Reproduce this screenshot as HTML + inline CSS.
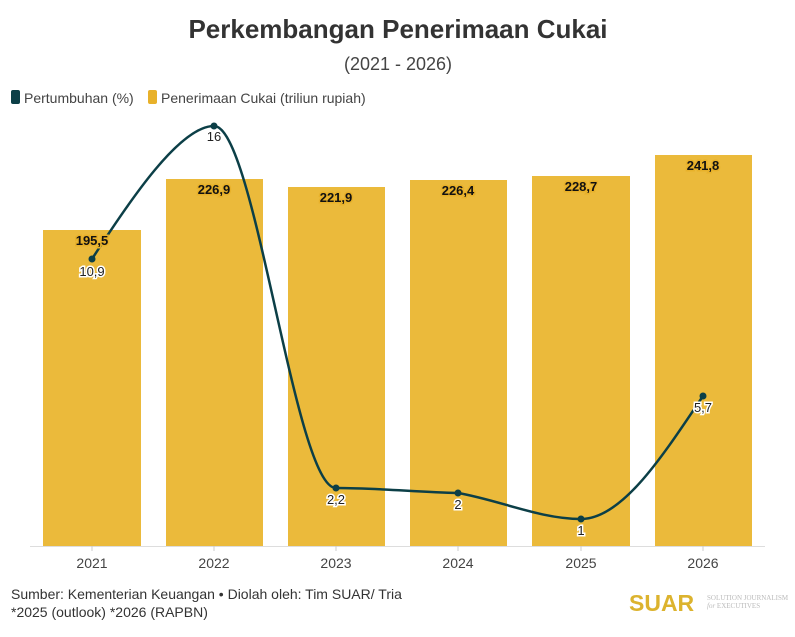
<!DOCTYPE html>
<html><head><meta charset="utf-8"><style>
body{margin:0;background:#fff;width:795px;height:632px;overflow:hidden;font-family:"Liberation Sans",sans-serif}
</style></head><body>
<svg width="795" height="632" viewBox="0 0 795 632" xmlns="http://www.w3.org/2000/svg" font-family="Liberation Sans, sans-serif">
<text x="398" y="38" text-anchor="middle" font-size="26" font-weight="bold" fill="#333">Perkembangan Penerimaan Cukai</text>
<text x="398" y="70" text-anchor="middle" font-size="18" fill="#444">(2021 - 2026)</text>
<rect x="11" y="90" width="9" height="14" rx="2" fill="#0c3f47"/>
<text x="24" y="103" font-size="14" fill="#444">Pertumbuhan (%)</text>
<rect x="148" y="90" width="9" height="14" rx="2" fill="#e8b12a"/>
<text x="161" y="103" font-size="14" fill="#444">Penerimaan Cukai (triliun rupiah)</text>
<g fill="#ebba3b">
<rect x="43" y="230" width="98" height="316"/>
<rect x="166" y="179" width="97" height="367"/>
<rect x="288" y="187" width="97" height="359"/>
<rect x="410" y="180" width="97" height="366"/>
<rect x="532" y="176" width="98" height="370"/>
<rect x="655" y="155" width="97" height="391"/>
</g>
<line x1="30" y1="546.5" x2="765" y2="546.5" stroke="#ddd"/>
<g stroke="#ccc"><line x1="92" y1="546" x2="92" y2="551"/><line x1="214" y1="546" x2="214" y2="551"/><line x1="336" y1="546" x2="336" y2="551"/><line x1="458" y1="546" x2="458" y2="551"/><line x1="581" y1="546" x2="581" y2="551"/><line x1="703" y1="546" x2="703" y2="551"/></g>
<g font-size="14" fill="#444" text-anchor="middle">
<text x="92" y="568">2021</text><text x="214" y="568">2022</text><text x="336" y="568">2023</text><text x="458" y="568">2024</text><text x="581" y="568">2025</text><text x="703" y="568">2026</text>
</g>
<path d="M92,259 C130,200 180,126 214,126 C255,126 295,488 336,488 C377,488 417,492 458,493 C499,500 540,519 581,519 C622,519 662,457 703,396" fill="none" stroke="#0c3f47" stroke-width="2.5"/>
<g font-size="13" font-weight="bold" fill="#111" text-anchor="middle" stroke="#e8b12a" stroke-width="3" paint-order="stroke">
<text x="92" y="245">195,5</text><text x="214" y="194">226,9</text><text x="336" y="202">221,9</text><text x="458" y="195">226,4</text><text x="581" y="191">228,7</text><text x="703" y="170">241,8</text>
</g>
<g fill="#0c3f47"><circle cx="92" cy="259" r="3.5"/><circle cx="214" cy="126" r="3.5"/><circle cx="336" cy="488" r="3.5"/><circle cx="458" cy="493" r="3.5"/><circle cx="581" cy="519" r="3.5"/><circle cx="703" cy="396" r="3.5"/></g>
<g font-size="13" fill="#222" text-anchor="middle" stroke="#fff" stroke-width="3" paint-order="stroke">
<text x="92" y="276">10,9</text><text x="214" y="141">16</text><text x="336" y="504">2,2</text><text x="458" y="509">2</text><text x="581" y="535">1</text><text x="703" y="412">5,7</text>
</g>
<text x="11" y="599" font-size="14" fill="#333">Sumber: Kementerian Keuangan • Diolah oleh: Tim SUAR/ Tria</text>
<text x="11" y="617" font-size="14" fill="#333">*2025 (outlook) *2026 (RAPBN)</text>
<text x="629" y="611" font-size="23" font-weight="bold" fill="#dcb32e">SUAR</text>
<text x="707" y="600" font-size="7" fill="#bbb" font-family="Liberation Serif, serif">SOLUTION JOURNALISM</text>
<text x="707" y="608" font-size="7" fill="#bbb" font-family="Liberation Serif, serif"><tspan font-style="italic">for</tspan> EXECUTIVES</text>
</svg>
</body></html>
